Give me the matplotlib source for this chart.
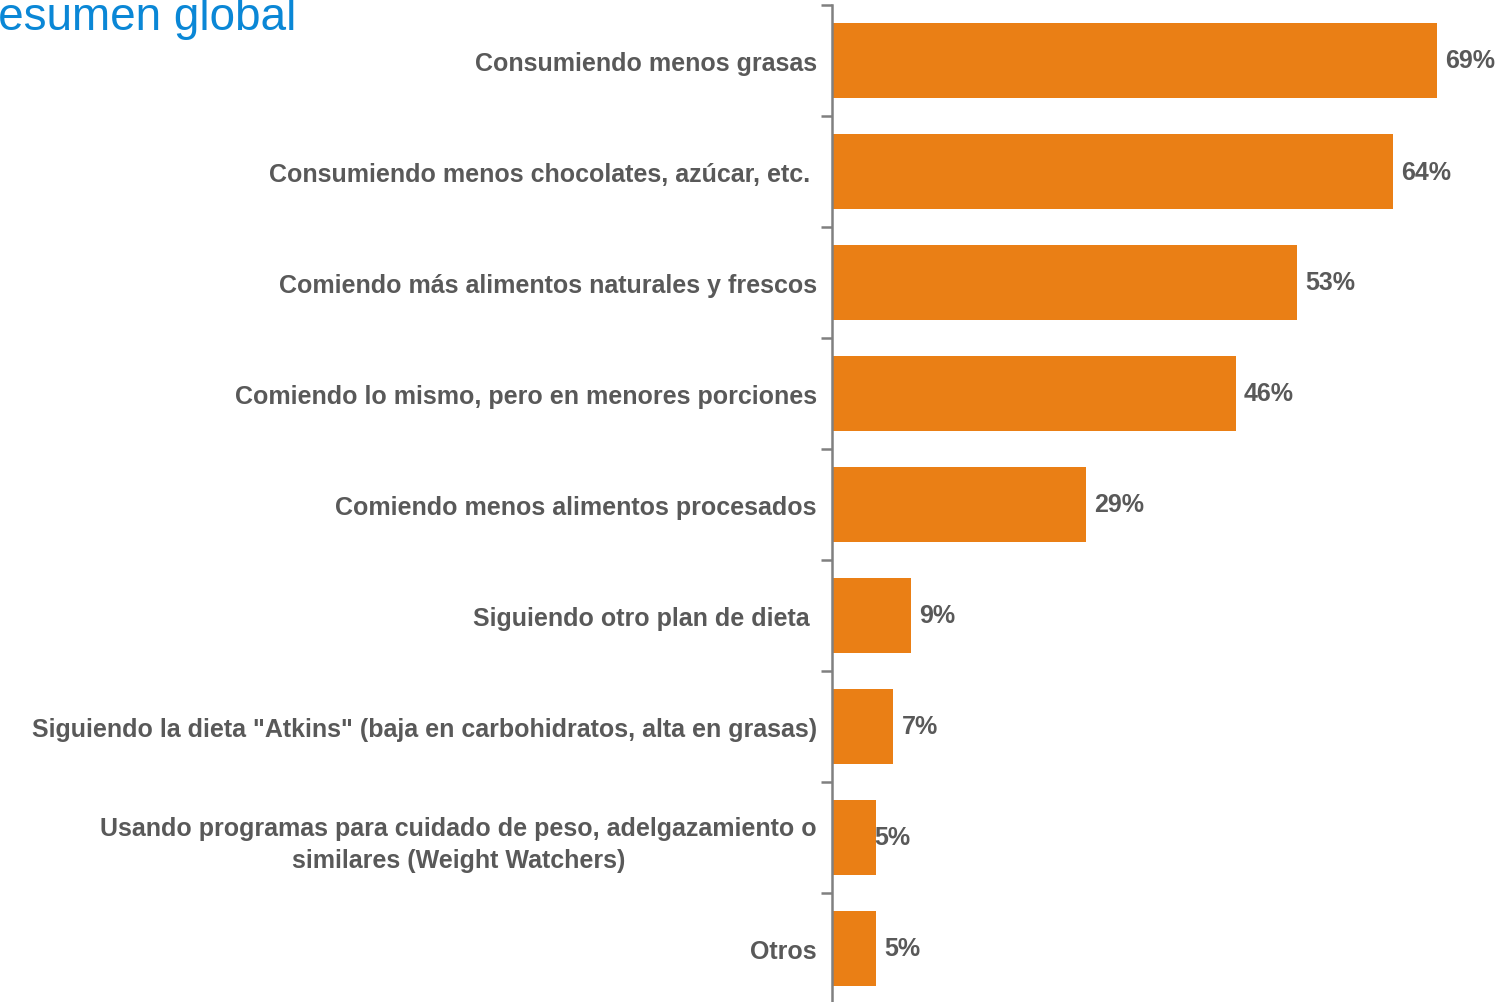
import matplotlib
matplotlib.use('Agg')
import matplotlib.pyplot as plt
import numpy as np

plt.rcParams['font.family'] = ['Liberation Sans', 'DejaVu Sans']

categories = [
    'Consumiendo menos grasas',
    'Consumiendo menos chocolates, azúcar, etc. ',
    'Comiendo más alimentos naturales y frescos',
    'Comiendo lo mismo, pero en menores porciones',
    'Comiendo menos alimentos procesados',
    'Siguiendo otro plan de dieta ',
    'Siguiendo la dieta "Atkins" (baja en carbohidratos, alta en grasas)',
    'Usando programas para cuidado de peso, adelgazamiento o\nsimilares (Weight Watchers)',
    'Otros',
]
values = [69, 64, 53, 46, 29, 9, 7, 5, 5]
title = 'Resumen global'

bar_color = '#EA7F15'
text_gray = '#595959'
axis_gray = '#808080'

fig = plt.figure(figsize=(14.97, 10.03), dpi=100)
ax = fig.add_axes([832 / 1497, -2 / 1003, 658 / 1497, 999 / 1003])

y = np.arange(len(categories))
ax.barh(y, values, height=0.667, color=bar_color)
ax.set_ylim(len(categories) - 0.5, -0.5)
ax.set_xlim(0, 75)

# value labels; the Weight Watchers label sits a bit closer to the bar in the original
offsets = [8] * len(values)
offsets[7] = -2
for yi, v, off in zip(y, values, offsets):
    ax.annotate(f'{v}%', (v, yi), xytext=(off, 0), textcoords='offset pixels',
                ha='left', va='center', fontsize=18, fontweight='bold',
                color=text_gray, annotation_clip=False)

for sp in ['top', 'right', 'bottom']:
    ax.spines[sp].set_visible(False)
ax.spines['left'].set_color(axis_gray)
ax.spines['left'].set_linewidth(1.8)
ax.set_xticks([])

ax.set_yticks(y)
ax.set_yticklabels(categories, fontsize=18, fontweight='bold', color=text_gray,
                   multialignment='center', linespacing=1.4)
ax.tick_params(axis='y', which='major', length=0, pad=11)
ax.set_yticks(np.arange(-0.5, len(categories) + 0.5, 1), minor=True)
ax.tick_params(axis='y', which='minor', length=8, width=1.8, color=axis_gray, direction='out')

fig.text(296 / 1497, 1 - 30 / 1003, title, ha='right', va='baseline',
         fontsize=33, color='#0A87D6')

fig.savefig('out.png', dpi=100)
